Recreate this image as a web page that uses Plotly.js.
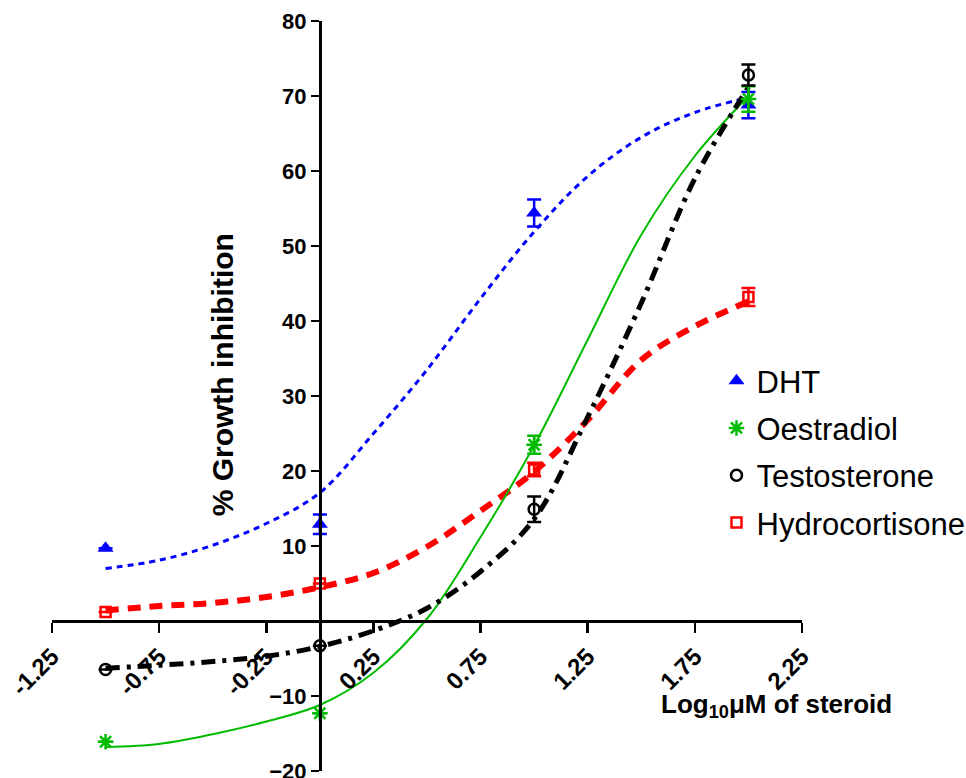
<!DOCTYPE html>
<html>
<head>
<meta charset="utf-8">
<script src="https://cdn.plot.ly/plotly-3.0.1.min.js"></script>
<style>
html,body{margin:0;padding:0;background:#fff;}
#chart{width:966px;height:778px;}
</style>
</head>
<body>
<div id="chart"></div>
<script>
// ---- data: measured points ----
const doseX = [-1, 0, 1, 2];

const dhtMean = [9.7, 12.9, 54.4, 68.8];
const dhtErr = [null, 1.3, 1.8, 1.75];

const oestMean = [-16.1, -12.3, 23.5, 69.6];
const oestErr = [null, null, 1.2, 1.7];

const testMean = [-6.45, -3.3, 14.9, 72.8];
const testErr = [null, null, 1.7, 1.4];

const hydroMean = [1.2, 5.0, 20.2, 43.2];
const hydroErr = [null, null, 0.9, 1.2];

// ---- data: fitted curves ----
const curveX = [-1, -0.75, -0.5, -0.25, 0, 0.25, 0.5, 0.75, 1, 1.25, 1.5, 1.75, 2];
const dhtCurveY = [7.0, 8.1, 10.1, 13.0, 17.1, 25.0, 33.5, 43.0, 51.9, 59.3, 64.5, 67.8, 69.8];
const oestCurveY = [-16.8, -16.4, -15.1, -13.4, -11.2, -6.9, 0.3, 11.2, 23.4, 37.5, 51.5, 62.0, 70.0];
const testCurveY = [-6.3, -5.9, -5.4, -4.7, -3.4, -1.3, 1.7, 6.6, 13.6, 27.2, 42.4, 59.0, 71.2];
const hydroCurveY = [1.4, 2.0, 2.4, 3.2, 4.5, 6.4, 9.9, 14.7, 19.9, 26.8, 34.8, 39.3, 42.6];

const seriesNames = ['DHT', 'Oestradiol', 'Testosterone', 'Hydrocortisone'];

const xTickVals = [-1.25, -0.75, -0.25, 0.25, 0.75, 1.25, 1.75, 2.25];
const xTickText = ['-1.25', '-0.75', '-0.25', '0.25', '0.75', '1.25', '1.75', '2.25'];
const yTickVals = [-20, -10, 10, 20, 30, 40, 50, 60, 70, 80];

const xRange = [-1.25, 2.25];
const yRange = [-20, 80];

// ---- styles ----
const BLUE = '#0000ff', GREEN = '#00bb00', BLACK = '#000000', RED = '#ff0000';
const FONT = 'Arial, "Liberation Sans", sans-serif';

function curve(y, color, width, dash) {
  return {x: curveX, y: y, mode: 'lines', type: 'scatter', showlegend: false,
    hoverinfo: 'skip', line: {color: color, width: width, dash: dash, shape: 'spline', smoothing: 1}};
}
function pts(name, y, err, color, marker, group) {
  return {x: doseX, y: y, name: name, mode: 'markers', type: 'scatter',
    legendgroup: group,
    marker: marker,
    error_y: {type: 'data', array: err, visible: true, color: color, thickness: 2.5, width: 7}};
}

const traces = [
  curve(dhtCurveY, BLUE, 3, '6px,5px'),
  curve(hydroCurveY, RED, 6, '13px,9px'),
  curve(oestCurveY, GREEN, 2, 'solid'),
  curve(testCurveY, BLACK, 5, '14px,7px,4px,7px'),
  pts(seriesNames[0], dhtMean, dhtErr, BLUE, {symbol: 'triangle-up', size: 14, color: BLUE}, 'a'),
  pts(seriesNames[1], oestMean, oestErr, GREEN, {symbol: 'asterisk-open', size: 13, color: GREEN, line: {color: GREEN, width: 2.5}}, 'b'),
  pts(seriesNames[2], testMean, testErr, BLACK, {symbol: 'circle-open', size: 11, color: BLACK, line: {color: BLACK, width: 2.5}}, 'c'),
  pts(seriesNames[3], hydroMean, hydroErr, RED, {symbol: 'square-open', size: 10, color: RED, line: {color: RED, width: 2.5}}, 'd')
];

const layout = {
  width: 966, height: 778,
  margin: {l: 52, r: 164, t: 21, b: 7, pad: 0, autoexpand: false},
  paper_bgcolor: '#fff', plot_bgcolor: '#fff',
  font: {family: FONT, color: '#000'},
  showlegend: true,
  legend: {x: 0.886, y: 0.556, xanchor: 'left', yanchor: 'top',
    font: {family: FONT, size: 31, color: '#000'}, tracegroupgap: 4,
    bgcolor: 'rgba(0,0,0,0)', borderwidth: 0},
  xaxis: {
    range: xRange, anchor: 'free', position: (0 - yRange[0]) / (yRange[1] - yRange[0]),
    showgrid: false, zeroline: false, showline: true, linecolor: '#000', linewidth: 3,
    ticks: 'outside', ticklen: 10, tickwidth: 2.5, tickcolor: '#000',
    tickvals: xTickVals, ticktext: xTickText, tickangle: -45,
    tickfont: {family: FONT, size: 24, color: '#000', weight: 'bold'},
    ticklabeloverflow: 'allow', automargin: false
  },
  yaxis: {
    range: yRange, anchor: 'free', position: (0 - xRange[0]) / (xRange[1] - xRange[0]),
    showgrid: false, zeroline: false, showline: true, linecolor: '#000', linewidth: 3,
    ticks: 'outside', ticklen: 8, tickwidth: 2.5, tickcolor: '#000',
    tickvals: yTickVals,
    tickfont: {family: FONT, size: 22, color: '#000', weight: 'bold'},
    ticklabeloverflow: 'allow', automargin: false
  },
  annotations: [
    {x: -0.455, y: 32.8, xref: 'x', yref: 'y', text: '<b>% Growth inhibition</b>', textangle: -90,
     showarrow: false, font: {family: FONT, size: 30, color: '#000'}},
    {x: 2.13, y: -11.3, xref: 'x', yref: 'y', text: '<b>Log<sub>10</sub>μM of steroid</b>',
     showarrow: false, font: {family: FONT, size: 26, color: '#000'}}
  ]
};

Plotly.newPlot('chart', traces, layout, {displayModeBar: false, staticPlot: true});
</script>
</body>
</html>
